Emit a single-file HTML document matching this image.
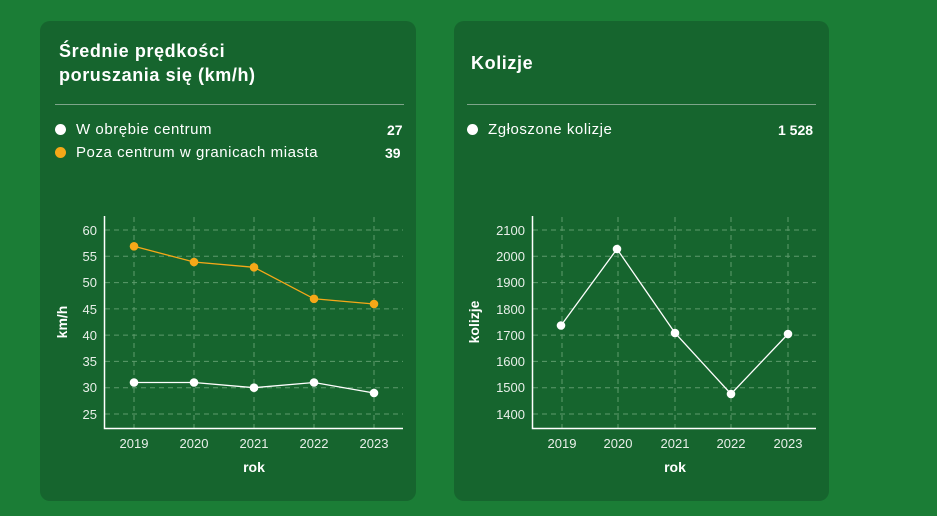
<!DOCTYPE html>
<html><head><style>
body{margin:0;width:937px;height:516px;background:#1b7d36;font-family:"Liberation Sans",sans-serif;overflow:hidden;position:relative;color:#fff}
.p{position:absolute;top:21px;height:480px;background:#16652e;border-radius:10px}
.t{position:absolute;font-weight:bold;font-size:18px;line-height:24px;letter-spacing:0.6px}
.hr{position:absolute;height:1px;background:#7ea58a}
.l{position:absolute;font-size:15px;letter-spacing:0.55px}
.d{display:inline-block;width:11px;height:11px;border-radius:50%;margin-right:10px;vertical-align:-1px}
.v{position:absolute;font-weight:bold;font-size:14px}
svg{position:absolute;left:0;top:0}
</style></head><body>
<div class="p" style="left:40px;width:376px"></div>
<div class="p" style="left:454px;width:375px"></div>
<div class="t" style="left:59px;top:39px">Średnie prędkości<br>poruszania się (km/h)</div>
<div class="t" style="left:471px;top:51px">Kolizje</div>
<div class="hr" style="left:55px;width:349px;top:104px"></div>
<div class="hr" style="left:467px;width:349px;top:104px"></div>
<div class="l" style="left:55px;top:121px"><span class="d" style="background:#fff"></span>W obrębie centrum</div>
<div class="v" style="left:387px;top:122px">27</div>
<div class="l" style="left:55px;top:144px"><span class="d" style="background:#f5a818"></span>Poza centrum w granicach miasta</div>
<div class="v" style="left:385px;top:145px">39</div>
<div class="l" style="left:467px;top:121px"><span class="d" style="background:#fff"></span>Zgłoszone kolizje</div>
<div class="v" style="left:778px;top:122px">1 528</div>
<svg width="937" height="516" font-family="Liberation Sans,sans-serif" font-size="13" fill="#e8efe9">
<g stroke="#5d9a6c" stroke-dasharray="5,4" stroke-width="1">
<path d="M105 230H403M105 256.3H403M105 282.6H403M105 308.9H403M105 335.1H403M105 361.4H403M105 387.7H403M105 414H403"/>
<path d="M134 217V428M194 217V428M254 217V428M314 217V428M374 217V428"/>
<path d="M533 230H816M533 256.3H816M533 282.6H816M533 308.9H816M533 335.1H816M533 361.4H816M533 387.7H816M533 414H816"/>
<path d="M562 217V428M618 217V428M675 217V428M731 217V428M788 217V428"/>
</g>
<path d="M104.5 216V428.5H403" stroke="#fff" fill="none" stroke-width="1.5"/>
<path d="M532.5 216V428.5H816" stroke="#fff" fill="none" stroke-width="1.5"/>
<g text-anchor="end">
<text x="97" y="235">60</text><text x="97" y="261">55</text><text x="97" y="287">50</text><text x="97" y="314">45</text><text x="97" y="340">40</text><text x="97" y="366">35</text><text x="97" y="392">30</text><text x="97" y="419">25</text>
<text x="525" y="235">2100</text><text x="525" y="261">2000</text><text x="525" y="287">1900</text><text x="525" y="314">1800</text><text x="525" y="340">1700</text><text x="525" y="366">1600</text><text x="525" y="392">1500</text><text x="525" y="419">1400</text>
</g>
<g text-anchor="middle">
<text x="134" y="448">2019</text><text x="194" y="448">2020</text><text x="254" y="448">2021</text><text x="314" y="448">2022</text><text x="374" y="448">2023</text>
<text x="562" y="448">2019</text><text x="618" y="448">2020</text><text x="675" y="448">2021</text><text x="731" y="448">2022</text><text x="788" y="448">2023</text>
<g font-weight="bold" font-size="14" fill="#fff">
<text x="254" y="472">rok</text><text x="675" y="472">rok</text>
<text transform="translate(67,322) rotate(-90)">km/h</text>
<text transform="translate(479,322) rotate(-90)">kolizje</text>
</g></g>
<polyline points="134,246.3 194,262 254,267.3 314,298.8 374,304" fill="none" stroke="#f5a818" stroke-width="1.3"/>
<g fill="#f5a818"><circle cx="134" cy="246.3" r="4.3"/><circle cx="194" cy="262" r="4.3"/><circle cx="254" cy="267.3" r="4.3"/><circle cx="314" cy="298.8" r="4.3"/><circle cx="374" cy="304" r="4.3"/></g>
<polyline points="134,382.5 194,382.5 254,387.7 314,382.5 374,393" fill="none" stroke="#fff" stroke-width="1.3"/>
<g fill="#fff"><circle cx="134" cy="382.5" r="4.3"/><circle cx="194" cy="382.5" r="4.3"/><circle cx="254" cy="387.7" r="4.3"/><circle cx="314" cy="382.5" r="4.3"/><circle cx="374" cy="393" r="4.3"/></g>
<polyline points="561,325.5 617,249 675,333 731,394 788,334" fill="none" stroke="#fff" stroke-width="1.3"/>
<g fill="#fff"><circle cx="561" cy="325.5" r="4.3"/><circle cx="617" cy="249" r="4.3"/><circle cx="675" cy="333" r="4.3"/><circle cx="731" cy="394" r="4.3"/><circle cx="788" cy="334" r="4.3"/></g>
</svg>
</body></html>
